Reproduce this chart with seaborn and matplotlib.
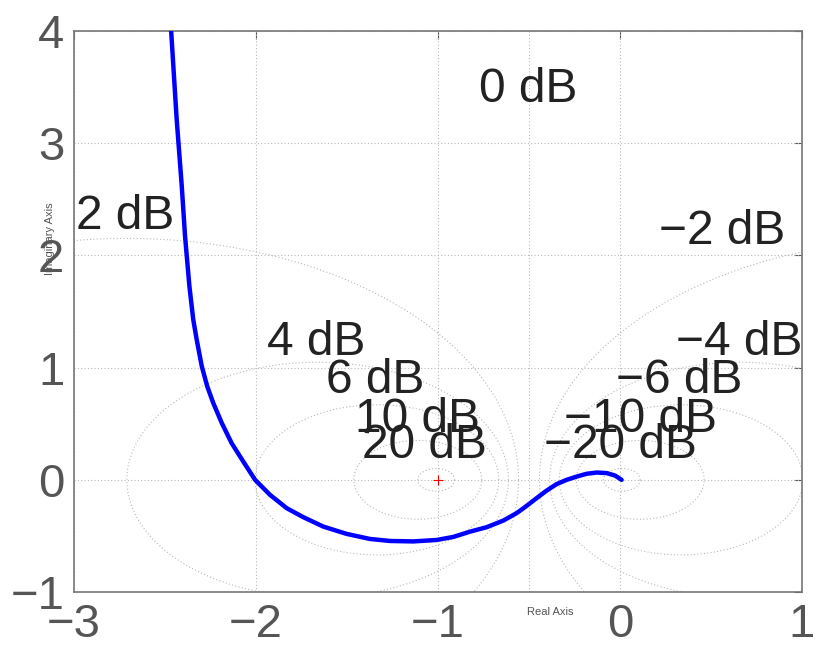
import numpy as np
import pandas as pd
import matplotlib
matplotlib.use("Agg")
import matplotlib.pyplot as plt
import seaborn as sns

# Nyquist curve
re_vals = [-2.467, -2.436, -2.408, -2.390, -2.366, -2.345, -2.326, -2.298, -2.268,
           -2.235, -2.188, -2.134, -2.070, -2.005, -1.923, -1.831, -1.740, -1.630,
           -1.502, -1.374, -1.264, -1.136, -1.007, -0.916, -0.824, -0.732, -0.641,
           -0.568, -0.513, -0.458, -0.403, -0.348, -0.293, -0.238, -0.183, -0.128,
           -0.073, -0.027, 0.009]
im_vals = [4.018, 3.214, 2.619, 2.172, 1.725, 1.429, 1.250, 1.012, 0.833,
           0.685, 0.506, 0.327, 0.163, 0.0, -0.134, -0.253, -0.333, -0.417,
           -0.482, -0.527, -0.545, -0.549, -0.536, -0.509, -0.462, -0.422, -0.363,
           -0.297, -0.232, -0.163, -0.096, -0.038, 0.0, 0.029, 0.054, 0.065,
           0.060, 0.038, 0.0]

# M-circle grid levels (dB) and label positions (baseline)
db_levels = [-20, -10, -6, -4, -2, 0, 2, 4, 6, 10, 20]
label_text = ["0 dB", "2 dB", "\u22122 dB", "4 dB", "\u22124 dB", "6 dB", "\u22126 dB",
              "10 dB", "\u221210 dB", "20 dB", "\u221220 dB"]
label_x = [-0.505, -2.720, 0.560, -1.670, 0.654, -1.343, 0.324, -1.115, 0.110, -1.077, 0.005]
label_y = [3.366, 2.232, 2.098, 1.116, 1.116, 0.777, 0.777, 0.429, 0.429, 0.196, 0.196]

x_ticks = [-3, -2, -1, 0, 1]
y_ticks = [-1, 0, 1, 2, 3, 4]

sns.set_style("white")
plt.rcParams['font.family'] = ['Liberation Sans', 'DejaVu Sans']

fig = plt.figure(figsize=(8.18, 6.48), dpi=100)
ax = fig.add_axes([0.0905, 0.0864, 0.8899, 0.8656])

grid_kw = dict(color="#b8b8b8", lw=0.8, ls=(0, (1, 2)), zorder=1)
# M circles
t = np.linspace(0, 2 * np.pi, 600)
for db in db_levels:
    if db == 0:
        ax.axvline(-0.5, **grid_kw)
        continue
    M = 10 ** (db / 20)
    c = -M ** 2 / (M ** 2 - 1)
    r = abs(M / (M ** 2 - 1))
    ax.plot(c + r * np.cos(t), r * np.sin(t), **grid_kw)

for xv in x_ticks:
    ax.axvline(xv, **grid_kw)
for yv in y_ticks:
    ax.axhline(yv, **grid_kw)

df = pd.DataFrame({"re": re_vals, "im": im_vals})
sns.lineplot(data=df, x="re", y="im", sort=False, color="#0000ff", lw=3.2, ax=ax,
             zorder=3, estimator=None, solid_joinstyle="round", solid_capstyle="round")

ax.plot([-1], [0], marker="+", color="red", ms=7, mew=0.8, zorder=4)

for s, xv, yv in zip(label_text, label_x, label_y):
    ax.text(xv, yv, s, fontsize=34.5, color="#222222", ha="center", va="baseline", zorder=5)

ax.set_xlim(-3, 1)
ax.set_ylim(-1, 4)
ax.set_xticks(x_ticks)
ax.set_yticks(y_ticks)
ax.set_xticklabels(["\u22123", "\u22122", "\u22121", "0", "1"])
ax.set_yticklabels(["\u22121", "0", "1", "2", "3", "4"])
ax.tick_params(direction="in", length=6, width=0.8, colors="#555555",
               labelsize=34, labelcolor="#555555", top=True, right=True)
ax.tick_params(axis="x", pad=8)
ax.tick_params(axis="y", pad=7)
for sp in ax.spines.values():
    sp.set_color("#777777")
    sp.set_linewidth(1.2)

ax.set_xlabel("Real Axis", fontsize=8, color="#555555")
ax.set_ylabel("Imaginary Axis", fontsize=8, color="#555555")
ax.xaxis.set_label_coords(0.654, -0.027)
ax.yaxis.set_label_coords(-0.026, 0.63)

fig.savefig("out.png", dpi=100)
